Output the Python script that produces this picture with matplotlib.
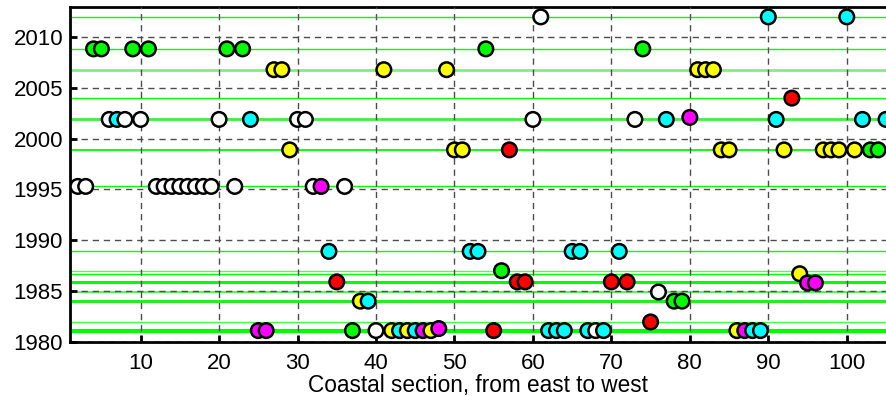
import numpy as np
import matplotlib
matplotlib.use('Agg')
import matplotlib.pyplot as plt

plt.rcParams['font.family'] = ['Liberation Sans', 'DejaVu Sans']

# survey dates drawn as horizontal green lines (year, width, colour)
line_years = [2012.0, 2008.85, 2006.8, 2004.0, 2001.9, 1998.9, 1995.3,
              1988.9, 1987.0, 1986.7, 1985.9, 1984.9, 1984.0, 1981.9, 1981.1]
line_widths = [1.0, 1.0, 2.0, 1.0, 2.0, 1.3, 1.0,
               1.0, 1.0, 1.0, 2.2, 1.6, 2.2, 1.0, 3.0]
line_colors = ['#00ff00', '#00ff00', '#80ee80', '#00ff00', '#40f040', '#00ff00', '#00ff00',
               '#00ff00', '#60f060', '#00ff00', '#00ff00', '#60f060', '#20f020', '#40ff40', '#00ff00']

# points per colour: coastal section and year
white_x = [61, 6, 8, 10, 20, 30, 31, 60, 73,
           2, 3, 12, 13, 14, 15, 16, 17, 18, 19, 22, 32, 36,
           76, 40, 68]
white_y = [2012.0, 2001.9, 2001.9, 2001.9, 2001.9, 2001.9, 2001.9, 2001.9, 2001.9,
           1995.3, 1995.3, 1995.3, 1995.3, 1995.3, 1995.3, 1995.3, 1995.3, 1995.3, 1995.3, 1995.3, 1995.3, 1995.3,
           1984.9, 1981.1, 1981.1]

cyan_x = [90, 100, 7, 24, 77, 91, 102, 105,
          34, 52, 53, 65, 66, 71,
          39, 43, 45, 62, 63, 64, 67, 69, 88, 89]
cyan_y = [2012.0, 2012.0, 2001.9, 2001.9, 2001.9, 2001.9, 2001.9, 2001.9,
          1988.9, 1988.9, 1988.9, 1988.9, 1988.9, 1988.9,
          1984.0, 1981.1, 1981.1, 1981.1, 1981.1, 1981.1, 1981.1, 1981.1, 1981.1, 1981.1]

green_x = [4, 5, 9, 11, 21, 23, 54, 74, 103, 104, 56, 78, 79, 37]
green_y = [2008.85, 2008.85, 2008.85, 2008.85, 2008.85, 2008.85, 2008.85, 2008.85,
           1998.9, 1998.9, 1987.0, 1984.0, 1984.0, 1981.1]

yellow_x = [27, 28, 41, 49, 81, 82, 83,
            29, 50, 51, 84, 85, 92, 97, 98, 99, 101,
            94, 38, 42, 44, 47, 86]
yellow_y = [2006.8, 2006.8, 2006.8, 2006.8, 2006.8, 2006.8, 2006.8,
            1998.9, 1998.9, 1998.9, 1998.9, 1998.9, 1998.9, 1998.9, 1998.9, 1998.9, 1998.9,
            1986.7, 1984.0, 1981.1, 1981.1, 1981.1, 1981.1]

red_x = [93, 57, 35, 58, 59, 70, 72, 75, 55]
red_y = [2004.0, 1998.9, 1985.9, 1985.9, 1985.9, 1985.9, 1985.9, 1981.95, 1981.1]

magenta_x = [80, 33, 95, 96, 25, 26, 46, 48, 87]
magenta_y = [2002.1, 1995.3, 1985.8, 1985.8, 1981.1, 1981.1, 1981.1, 1981.3, 1981.1]

groups = [(white_x, white_y, '#ffffff'), (cyan_x, cyan_y, '#00ffff'),
          (green_x, green_y, '#00ff00'), (yellow_x, yellow_y, '#ffff00'),
          (red_x, red_y, '#ff0000'), (magenta_x, magenta_y, '#ff00ff')]

xs, ys, cs = [], [], []
for gx, gy, col in groups:
    xs += gx
    ys += gy
    cs += [col] * len(gx)
# draw from east to west so each point sits on top of its left neighbour
order = np.argsort(xs, kind='stable')
xs = np.array(xs)[order]
ys = np.array(ys)[order]
cs = [cs[i] for i in order]

fig = plt.figure(figsize=(8.86, 3.96), dpi=100)
ax = fig.add_axes([0.079, 0.137, 0.921, 0.846])

for yr, lw, col in zip(line_years, line_widths, line_colors):
    ax.axhline(yr, color=col, lw=lw, zorder=1)

ax.scatter(xs, ys, s=110, c=cs, edgecolors='black', linewidths=1.8, zorder=3)

ax.set_xlim(1, 105)
ax.set_ylim(1980, 2013)
ax.set_xticks(range(10, 101, 10))
ax.set_yticks(range(1980, 2011, 5))
ax.grid(True, color='0.3', linestyle=(0, (4.5, 3.5)), lw=1.0, zorder=2)
ax.set_axisbelow(False)

ax.tick_params(direction='in', length=5, width=2, labelsize=16)
ax.tick_params(axis='x', pad=8)
ax.tick_params(axis='y', pad=5)
for side in ['left', 'top', 'bottom']:
    ax.spines[side].set_linewidth(2)
ax.spines['right'].set_visible(False)

ax.set_xlabel('Coastal section, from east to west', fontsize=16.3, labelpad=0)

fig.savefig('out.png', dpi=100)
